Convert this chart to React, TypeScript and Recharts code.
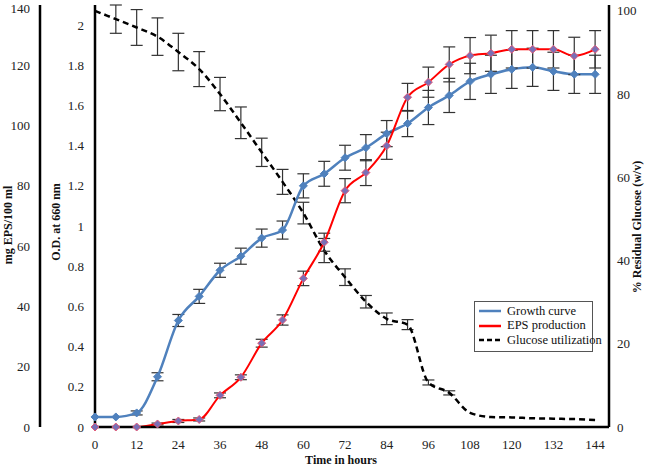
import React from 'react';
import { ComposedChart, Line, XAxis, YAxis, ErrorBar, Legend } from 'recharts';

const hours = [0, 6, 12, 18, 24, 30, 36, 42, 48, 54, 60, 66, 72, 78, 84, 90, 96, 102, 108, 114, 120, 126, 132, 138, 144];

// O.D. at 660 nm
const growth = [0.05, 0.05, 0.07, 0.25, 0.53, 0.65, 0.78, 0.85, 0.94, 0.98, 1.2, 1.26, 1.34, 1.39, 1.46, 1.51, 1.59, 1.65, 1.72, 1.755, 1.78, 1.79, 1.77, 1.755, 1.755];
const growthErr = [0, 0, 0.01, 0.02, 0.03, 0.035, 0.035, 0.04, 0.045, 0.045, 0.06, 0.062, 0.062, 0.065, 0.065, 0.065, 0.085, 0.085, 0.09, 0.095, 0.095, 0.095, 0.095, 0.095, 0.095];

// mg EPS / 100 ml
const eps = [0, 0, 0, 1, 2, 2.5, 10.5, 16.5, 27.8, 35.5, 49.3, 61.3, 78.4, 84.4, 93.3, 109.4, 114.4, 120.3, 123.2, 124, 125.3, 125.3, 125.3, 123.1, 125.3];
const epsErr = [0, 0, 0, 0.3, 0.5, 0.5, 0.8, 0.8, 1.3, 1.7, 2.4, 3, 4, 4.3, 4.5, 4.6, 5, 5.8, 6, 6, 6.2, 6.2, 6.2, 6.2, 6.2];

// % residual glucose
const glucose = [100, 98, 96, 93.8, 90.1, 86, 80, 73.1, 66, 58.9, 51.4, 42.4, 36, 30.1, 26, 24.6, 10.7, 8.2, 3.4, 2.4, 2.3, 2.1, 2.0, 1.9, 1.7];
const glucoseErr = [0, 3.4, 4.3, 4.5, 4.5, 4.2, 4, 3.8, 3.4, 3, 2.6, 2.9, 2, 1.5, 1.4, 1.2, 0.6, 0.5, 0, 0, 0, 0, 0, 0, 0];

const mgTicks = [0, 20, 40, 60, 80, 100, 120, 140];
const odTicks = [0, 0.2, 0.4, 0.6, 0.8, 1, 1.2, 1.4, 1.6, 1.8, 2];
const glucoseTicks = [0, 20, 40, 60, 80, 100];

const legendItems = [
  { label: 'Growth curve', color: '#4F81BD', dash: undefined },
  { label: 'EPS production', color: '#FF0000', dash: undefined },
  { label: 'Glucose utilization', color: '#000000', dash: '5 3' },
];

const data = hours.map((h, i) => ({
  hour: h,
  growth: growth[i],
  growthErr: growthErr[i],
  eps: eps[i],
  epsErr: epsErr[i],
  glucose: glucose[i],
  glucoseErr: glucoseErr[i],
}));

const FONT = '"Liberation Serif", "Times New Roman", Times, "DejaVu Serif", serif';
const tickStyle = { fontSize: 13, fill: '#222', fontFamily: FONT };
const axisLine = { stroke: '#000', strokeWidth: 2.5 };

const diamond = (fill: string, stroke: string) => (props: any) => {
  const { cx, cy, index } = props;
  if (cx == null || cy == null) return <g key={`n-${index}`} />;
  const r = 4;
  return (
    <path
      key={`d-${index}`}
      d={`M${cx},${cy - r}L${cx + r},${cy}L${cx},${cy + r}L${cx - r},${cy}Z`}
      fill={fill}
      stroke={stroke}
      strokeWidth={1}
    />
  );
};

const LegendBox = () => (
  <div
    style={{
      width: 119,
      height: 51,
      border: '1px solid #555',
      background: '#fff',
      boxSizing: 'border-box',
      fontFamily: FONT,
      fontSize: 12.5,
      color: '#111',
      paddingTop: 2,
    }}
  >
    {legendItems.map((it) => (
      <div key={it.label} style={{ display: 'flex', alignItems: 'center', height: 14.5 }}>
        <svg width={32} height={6} style={{ flex: 'none' }}>
          <line x1={4} y1={3} x2={26} y2={3} stroke={it.color} strokeWidth={2.5} strokeDasharray={it.dash} />
        </svg>
        <span style={{ whiteSpace: 'nowrap' }}>{it.label}</span>
      </div>
    ))}
  </div>
);

const VTitle = ({ x, y, text }: { x: number; y: number; text: string }) => (
  <div
    style={{
      position: 'absolute',
      left: x,
      top: y,
      transform: 'translate(-50%, -50%) rotate(-90deg)',
      whiteSpace: 'nowrap',
      fontFamily: FONT,
      fontWeight: 'bold',
      fontSize: 12,
      color: '#111',
    }}
  >
    {text}
  </div>
);

export default function App() {
  return (
    <div style={{ position: 'absolute', left: 0, top: 0, width: 650, height: 466, background: '#fff', fontFamily: FONT }}>
      <ComposedChart width={650} height={466} data={data} margin={{ top: 5, right: 0, bottom: 0, left: 0 }}>
        <XAxis
          dataKey="hour"
          type="number"
          domain={[0, 148]}
          ticks={hours.filter((h) => h % 12 === 0)}
          axisLine={axisLine}
          tickLine={false}
          tickSize={0}
          tickMargin={13}
          height={39}
          tick={tickStyle}
        />
        <YAxis
          yAxisId="inner"
          orientation="left"
          domain={[0, 2.1]}
          ticks={odTicks}
          width={55}
          axisLine={axisLine}
          tickLine={false}
          tickSize={0}
          tickMargin={11}
          tick={tickStyle}
        />
        <YAxis
          yAxisId="outer"
          orientation="left"
          domain={[0, 140]}
          ticks={mgTicks}
          width={40}
          axisLine={axisLine}
          tickLine={false}
          tickSize={0}
          tickMargin={10}
          tick={tickStyle}
        />
        <YAxis
          yAxisId="right"
          orientation="right"
          domain={[0, 100]}
          ticks={glucoseTicks}
          width={41}
          axisLine={axisLine}
          tickLine={false}
          tickSize={0}
          tickMargin={8}
          tick={tickStyle}
        />
        <Legend
          layout="horizontal"
          align="center"
          verticalAlign="middle"
          content={<LegendBox />}
          wrapperStyle={{ left: 474, top: 301, width: 119, height: 51 }}
        />
        <Line
          yAxisId="right"
          type="monotone"
          dataKey="glucose"
          stroke="#000"
          strokeWidth={2.5}
          strokeDasharray="6 4"
          dot={false}
          isAnimationActive={false}
        >
          <ErrorBar dataKey="glucoseErr" width={6} stroke="#333" strokeWidth={1.2} />
        </Line>
        <Line
          yAxisId="inner"
          type="monotone"
          dataKey="growth"
          stroke="#4F81BD"
          strokeWidth={2.5}
          dot={diamond('#4F81BD', '#4F81BD')}
          isAnimationActive={false}
        >
          <ErrorBar dataKey="growthErr" width={6} stroke="#333" strokeWidth={1.2} />
        </Line>
        <Line
          yAxisId="outer"
          type="monotone"
          dataKey="eps"
          stroke="#FF0000"
          strokeWidth={2}
          dot={diamond('#7A6FB5', '#E05A7A')}
          isAnimationActive={false}
        >
          <ErrorBar dataKey="epsErr" width={6} stroke="#333" strokeWidth={1.2} />
        </Line>
      </ComposedChart>
      <VTitle x={8} y={225} text="mg EPS/100 ml" />
      <VTitle x={56} y={222} text="O.D. at 660 nm" />
      <VTitle x={637} y={227} text="% Residual Glucose (w/v)" />
      <div
        style={{
          position: 'absolute',
          left: 341,
          top: 460,
          transform: 'translate(-50%, -50%)',
          whiteSpace: 'nowrap',
          fontFamily: FONT,
          fontWeight: 'bold',
          fontSize: 12,
          color: '#111',
        }}
      >
        Time in hours
      </div>
    </div>
  );
}
